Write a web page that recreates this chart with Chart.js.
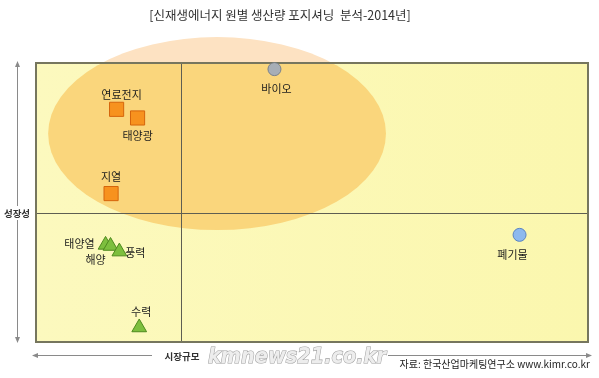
<!DOCTYPE html>
<html>
<head>
<meta charset="utf-8">
<script src="https://cdn.jsdelivr.net/npm/chart.js@4.4.1/dist/chart.umd.min.js"></script>
<style>
  html, body { margin: 0; padding: 0; background: #fff; }
  #wrap { width: 599px; height: 378px; position: relative; }
</style>
</head>
<body>
<div id="wrap"><canvas id="posChart"></canvas></div>
<script>
  // ---------- Data ----------
  const TITLE = "[신재생에너지 원별 생산량 포지셔닝  분석-2014년]";
  const X_LABEL = "시장규모";
  const Y_LABEL = "성장성";
  const SOURCE = "자료: 한국산업마케팅연구소 www.kimr.co.kr";
  const WATERMARK = "kmnews21.co.kr";

  const names  = ["연료전지", "태양광", "지열", "바이오", "폐기물", "태양열", "해양", "풍력", "수력"];
  const groups = ["square", "square", "square", "grey", "blue", "tri", "tri", "tri", "tri"];
  const xVals  = [14.6, 18.4, 13.6, 43.2, 87.6, 12.6, 13.5, 15.1, 18.7];
  const yVals  = [83.4, 80.3, 53.2, 97.8, 38.4, 34.8, 34.4, 32.4, 5.2];

  // quadrant split and highlighted zone (in axis units)
  const X_MID = 26.3;
  const Y_MID = 46.2;
  const zone = { cx: 32.8, cy: 74.7, rx: 30.6, ry: 34.6 };

  // ---------- Styles ----------
  const groupStyle = {
    square: { shape: "rect",     r: 10,  fill: "#F7921E", line: "#D5650C" },
    grey:   { shape: "circle",   r: 6.5, fill: "#A7AEB6", line: "#7B828B" },
    blue:   { shape: "circle",   r: 6.5, fill: "#8DB9EE", line: "#5A84C2" },
    tri:    { shape: "triangle", r: 8.5, fill: "#7DBF3E", line: "#4E8A1E" }
  };
  // label offset from marker, px
  const labelOffset = {
    "연료전지": [5, -15], "태양광": [0, 18], "지열": [0, -17], "바이오": [2, 20],
    "폐기물": [-7, 20], "태양열": [-26, -1], "해양": [-15, 14], "풍력": [16, 1], "수력": [2, -16]
  };
  const FONT = '"Noto Sans CJK KR", "Noto Sans", sans-serif';

  const points = xVals.map((x, i) => ({ x: x, y: yVals[i] }));

  // ---------- Plugins ----------
  const backdropPlugin = {
    id: "backdrop",
    beforeDatasetsDraw(chart) {
      const { ctx, chartArea: a, scales: { x, y } } = chart;
      const cx = x.getPixelForValue(zone.cx), cy = y.getPixelForValue(zone.cy);
      const rx = x.getPixelForValue(zone.cx + zone.rx) - cx;
      const ry = cy - y.getPixelForValue(zone.cy + zone.ry);
      ctx.save();
      // faint part of the zone outside the plot
      ctx.fillStyle = "#FDE2C2";
      ctx.beginPath(); ctx.ellipse(cx, cy, rx, ry, 0, 0, Math.PI * 2); ctx.fill();
      // plot area
      ctx.beginPath(); ctx.rect(a.left, a.top, a.right - a.left, a.bottom - a.top); ctx.clip();
      const g = ctx.createLinearGradient(a.left, 0, a.right, 0);
      g.addColorStop(0, "#FCF9BE"); g.addColorStop(1, "#FBF7AE");
      ctx.fillStyle = g;
      ctx.fillRect(a.left, a.top, a.right - a.left, a.bottom - a.top);
      ctx.fillStyle = "#FAD67C";
      ctx.beginPath(); ctx.ellipse(cx, cy, rx, ry, 0, 0, Math.PI * 2); ctx.fill();
      ctx.restore();

      // quadrant lines
      ctx.save();
      ctx.strokeStyle = "#5E5E52";
      ctx.lineWidth = 1;
      const mx = Math.round(x.getPixelForValue(X_MID)) + 0.5;
      const my = Math.round(y.getPixelForValue(Y_MID)) + 0.5;
      ctx.beginPath();
      ctx.moveTo(mx, a.top); ctx.lineTo(mx, a.bottom);
      ctx.moveTo(a.left, my); ctx.lineTo(a.right, my);
      ctx.stroke();
      // frame
      ctx.strokeStyle = "#76765E";
      ctx.lineWidth = 2;
      ctx.strokeRect(a.left, a.top, a.right - a.left, a.bottom - a.top);
      ctx.restore();
    },
    afterDatasetsDraw(chart) {
      const { ctx } = chart;
      const meta = chart.getDatasetMeta(0);
      ctx.save();
      ctx.font = "11px " + FONT;
      ctx.fillStyle = "#1C1C1C";
      ctx.textAlign = "center";
      ctx.textBaseline = "middle";
      meta.data.forEach((pt, i) => {
        const off = labelOffset[names[i]] || [0, 0];
        ctx.fillText(names[i], pt.x + off[0], pt.y + off[1]);
      });
      ctx.restore();
    },
    afterDraw(chart) {
      const { ctx, chartArea: a } = chart;
      ctx.save();
      // title
      ctx.fillStyle = "#333";
      ctx.font = "12.5px " + FONT;
      ctx.textAlign = "center";
      ctx.textBaseline = "middle";
      ctx.fillText(TITLE, 280, 15);

      // arrows
      ctx.strokeStyle = "#8A8A8A";
      ctx.fillStyle = "#8A8A8A";
      ctx.lineWidth = 1;
      const head = (x0, y0, dx, dy) => {
        ctx.beginPath();
        ctx.moveTo(x0, y0);
        ctx.lineTo(x0 - dx * 6 - dy * 2.5, y0 - dy * 6 - dx * 2.5);
        ctx.lineTo(x0 - dx * 6 + dy * 2.5, y0 - dy * 6 + dx * 2.5);
        ctx.closePath();
        ctx.fill();
      };
      const ax = 17.5, ay = 355.5;
      ctx.beginPath();
      ctx.moveTo(ax, a.top + 2); ctx.lineTo(ax, a.bottom);
      ctx.moveTo(34, ay); ctx.lineTo(590, ay);
      ctx.stroke();
      head(ax, a.top - 2, 0, -1);
      head(ax, a.bottom + 1, 0, 1);
      head(32, ay, -1, 0);
      head(592, ay, 1, 0);

      // axis labels on white
      ctx.font = "bold 9.5px " + FONT;
      ctx.fillStyle = "#fff";
      ctx.fillRect(4, 206, 27, 14);
      ctx.fillRect(152, 349, 236, 12);
      ctx.fillStyle = "#333";
      ctx.fillText(Y_LABEL, 17, 213);
      ctx.fillText(X_LABEL, 182, 356);

      // watermark
      ctx.font = "italic bold 22px " + '"DejaVu Sans", sans-serif';
      ctx.textAlign = "left";
      ctx.lineWidth = 1.2;
      ctx.strokeStyle = "#A0A0A0";
      ctx.fillStyle = "#EDEDED";
      ctx.strokeText(WATERMARK, 208, 357, 178);
      ctx.fillText(WATERMARK, 208, 357, 178);

      // source
      ctx.font = "10px " + FONT;
      ctx.fillStyle = "#222";
      ctx.textAlign = "right";
      ctx.fillText(SOURCE, 590, 364);
      ctx.restore();
    }
  };

  // ---------- Chart ----------
  new Chart(document.getElementById("posChart").getContext("2d"), {
    type: "scatter",
    data: {
      datasets: [{
        data: points,
        pointStyle: groups.map(g => groupStyle[g].shape),
        pointRadius: groups.map(g => groupStyle[g].r),
        pointHoverRadius: groups.map(g => groupStyle[g].r),
        backgroundColor: groups.map(g => groupStyle[g].fill),
        borderColor: groups.map(g => groupStyle[g].line),
        borderWidth: 1,
        clip: false
      }]
    },
    options: {
      responsive: true,
      maintainAspectRatio: false,
      animation: false,
      devicePixelRatio: 1,
      layout: { padding: { left: 36, right: 8, top: 63, bottom: 36 } },
      scales: {
        x: { type: "linear", min: 0, max: 100, display: false },
        y: { type: "linear", min: 0, max: 100, display: false }
      },
      plugins: {
        legend: { display: false },
        tooltip: { enabled: false },
        title: { display: false }
      }
    },
    plugins: [backdropPlugin]
  });
</script>
</body>
</html>
